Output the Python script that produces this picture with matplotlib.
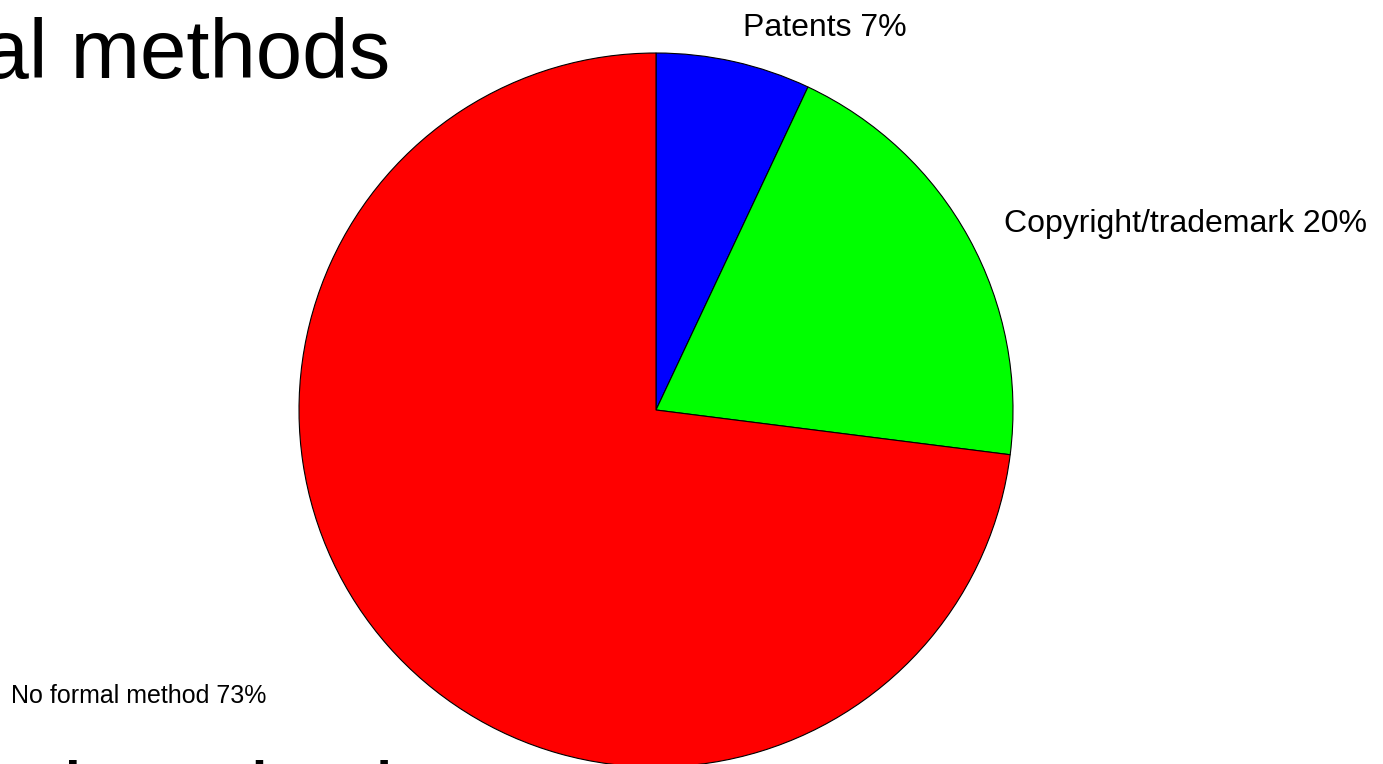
import matplotlib.pyplot as plt

# pie data: share of firms by protection method
categories = ["Patents", "Copyright/trademark", "No formal method"]
shares = [7, 20, 73]
colors = ["#0000ff", "#00ff00", "#ff0000"]

# label positions in pie units (radius = 1)
label_xy = [(0.473, 1.048), (1.482, 0.499), (-1.448, -0.821)]
label_size = [23, 23, 18]

W, H, DPI = 1383, 764, 100
CX, CY, R = 656, 354, 357  # pie centre / radius in pixels (from bottom)

plt.rcParams["font.family"] = ["Liberation Sans", "DejaVu Sans"]

fig = plt.figure(figsize=(W / DPI, H / DPI), dpi=DPI)
ax = fig.add_axes([0, 0, 1, 1])

ax.pie(
    shares,
    colors=colors,
    startangle=90,
    counterclock=False,
    radius=1,
    wedgeprops={"edgecolor": "black", "linewidth": 0.8},
    frame=True,
)
ax.set_xlim(-CX / R, (W - CX) / R)
ax.set_ylim(-CY / R, (H - CY) / R)
ax.axis("off")

for name, share, (x, y), size in zip(categories, shares, label_xy, label_size):
    ax.text(x, y, f"{name} {share}%", ha="center", va="baseline", fontsize=size)

# slide text behind the chart, cut off by the frame
fig.text(390 / W, 1 - 78 / H, "Formal methods", ha="right", va="baseline", fontsize=60)
fig.text(437 / W, 1 - 822 / H, "Informal methods", ha="right", va="baseline", fontsize=62, zorder=0)

fig.savefig("out.png", dpi=DPI)
